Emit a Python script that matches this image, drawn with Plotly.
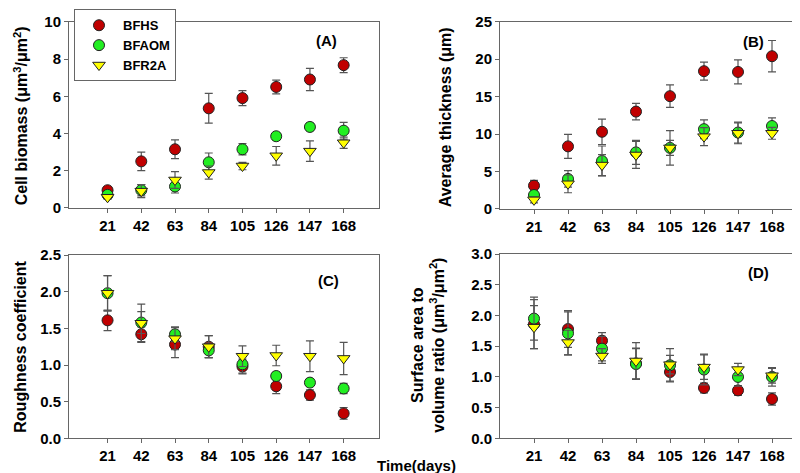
import plotly.graph_objects as go
from plotly.subplots import make_subplots

days = [21, 42, 63, 84, 105, 126, 147, 168]
series_names = ["BFHS", "BFAOM", "BFR2A"]

# Panel A: Cell biomass
a_bfhs = [0.95, 2.5, 3.15, 5.35, 5.9, 6.5, 6.9, 7.67]
a_bfhs_err = [0.2, 0.5, 0.5, 0.8, 0.4, 0.37, 0.6, 0.4]
a_bfaom = [0.7, 0.95, 1.15, 2.45, 3.15, 3.85, 4.35, 4.15]
a_bfaom_err = [0.1, 0.3, 0.35, 0.5, 0.3, 0.2, 0.2, 0.45]
a_bfr2a = [0.57, 0.9, 1.5, 1.9, 2.25, 2.8, 3.05, 3.5]
a_bfr2a_err = [0.1, 0.35, 0.45, 0.35, 0.2, 0.5, 0.55, 0.3]

# Panel B: Average thickness
b_bfhs = [3.1, 8.35, 10.3, 13.0, 15.06, 18.4, 18.3, 20.4]
b_bfhs_err = [0.7, 1.6, 1.7, 1.1, 1.5, 1.2, 1.6, 2.1]
b_bfaom = [1.85, 4.0, 6.4, 7.55, 8.15, 10.65, 10.2, 11.07]
b_bfaom_err = [0.5, 1.1, 2.0, 1.6, 2.3, 1.25, 1.4, 1.1]
b_bfr2a = [1.2, 3.35, 5.85, 7.2, 8.15, 9.65, 10.1, 10.1]
b_bfr2a_err = [0.4, 1.2, 1.4, 1.8, 1.0, 1.2, 1.4, 0.8]

# Panel C: Roughness coefficient
c_bfhs = [1.61, 1.42, 1.28, 1.25, 0.98, 0.71, 0.59, 0.34]
c_bfhs_err = [0.14, 0.1, 0.18, 0.15, 0.1, 0.1, 0.07, 0.08]
c_bfaom = [1.98, 1.58, 1.42, 1.2, 1.01, 0.85, 0.76, 0.68]
c_bfaom_err = [0.24, 0.15, 0.1, 0.1, 0.12, 0.05, 0.05, 0.07]
c_bfr2a = [1.98, 1.57, 1.36, 1.25, 1.12, 1.13, 1.12, 1.09]
c_bfr2a_err = [0.24, 0.26, 0.15, 0.15, 0.14, 0.14, 0.21, 0.22]

# Panel D: Surface area to volume ratio
d_bfhs = [1.86, 1.78, 1.59, 1.22, 1.08, 0.82, 0.78, 0.64]
d_bfhs_err = [0.4, 0.3, 0.13, 0.25, 0.15, 0.08, 0.08, 0.1]
d_bfaom = [1.95, 1.71, 1.46, 1.21, 1.19, 1.12, 1.0, 1.0]
d_bfaom_err = [0.35, 0.35, 0.2, 0.25, 0.27, 0.25, 0.15, 0.15]
d_bfr2a = [1.81, 1.56, 1.34, 1.26, 1.2, 1.16, 1.12, 1.02]
d_bfr2a_err = [0.35, 0.2, 0.12, 0.3, 0.15, 0.2, 0.1, 0.12]

colors = ["#C00000", "#22EE22", "#FFFF00"]
symbols = ["circle", "circle", "triangle-down"]
FONT = "Arial, Liberation Sans, sans-serif"

fig = make_subplots(rows=2, cols=2)

panels = [
    (1, 1, [(a_bfhs, a_bfhs_err), (a_bfaom, a_bfaom_err), (a_bfr2a, a_bfr2a_err)]),
    (1, 2, [(b_bfhs, b_bfhs_err), (b_bfaom, b_bfaom_err), (b_bfr2a, b_bfr2a_err)]),
    (2, 1, [(c_bfhs, c_bfhs_err), (c_bfaom, c_bfaom_err), (c_bfr2a, c_bfr2a_err)]),
    (2, 2, [(d_bfhs, d_bfhs_err), (d_bfaom, d_bfaom_err), (d_bfr2a, d_bfr2a_err)]),
]

for pi, (r, c, data) in enumerate(panels):
    for si, (vals, errs) in enumerate(data):
        fig.add_trace(go.Scatter(
            x=days, y=vals, mode="markers", name=series_names[si],
            showlegend=(pi == 0),
            marker=dict(color=colors[si], symbol=symbols[si], size=11,
                        line=dict(color="#222", width=1)),
            error_y=dict(type="data", array=errs, visible=True,
                         color="#555", thickness=1.2, width=4),
        ), row=r, col=c)

W, H = 800, 473
domA = dict(x=[61 / W, 371 / W], y=[1 - 198 / H, 1 - 5 / H])
domB = dict(x=[492 / W, 798 / W], y=[1 - 199 / H, 1 - 5 / H])
domC = dict(x=[61 / W, 371 / W], y=[1 - 437 / H, 1 - 247 / H])
domD = dict(x=[492 / W, 798 / W], y=[1 - 437 / H, 1 - 246 / H])

axis_common = dict(showline=True, mirror=True, linecolor="#666", linewidth=1,
                   ticks="outside", ticklen=4, tickcolor="#666", showgrid=False,
                   zeroline=False,
                   tickfont=dict(family=FONT, size=15, color="black", weight="bold"))

xr_left = [-3, 190]
xr_right = [0, 189]
fig.update_xaxes(**axis_common, tickvals=days)
fig.update_yaxes(**axis_common)

fig.update_layout(
    xaxis=dict(domain=domA["x"], range=xr_left),
    yaxis=dict(domain=domA["y"], range=[0, 10], tickvals=[0, 2, 4, 6, 8, 10]),
    xaxis2=dict(domain=domB["x"], range=xr_right),
    yaxis2=dict(domain=domB["y"], range=[0, 25], tickvals=[0, 5, 10, 15, 20, 25]),
    xaxis3=dict(domain=domC["x"], range=xr_left),
    yaxis3=dict(domain=domC["y"], range=[0, 2.5], tickvals=[0, 0.5, 1.0, 1.5, 2.0, 2.5], tickformat=".1f"),
    xaxis4=dict(domain=domD["x"], range=xr_right),
    yaxis4=dict(domain=domD["y"], range=[0, 3.0], tickvals=[0, 0.5, 1.0, 1.5, 2.0, 2.5, 3.0], tickformat=".1f"),
)

fig.update_layout(
    width=W, height=H,
    margin=dict(l=0, r=0, t=0, b=0),
    paper_bgcolor="white", plot_bgcolor="white",
    font=dict(family=FONT, color="black"),
    legend=dict(x=66 / W, y=1 + 8 / H, xanchor="left", yanchor="top",
                bgcolor="white", bordercolor="#666", borderwidth=1,
                font=dict(family=FONT, size=13, color="black", weight="bold"),
                tracegroupgap=0, itemwidth=38),
)

title_font = dict(family=FONT, size=16, color="black", weight="bold")
ann = [
    dict(text="Cell biomass (μm<sup>3</sup>/μm<sup>2</sup>)", x=13 / W, y=1 - 103 / H, textangle=-90),
    dict(text="Average thickness (μm)", x=437 / W, y=1 - 104 / H, textangle=-90),
    dict(text="Roughness coefficient", x=13 / W, y=1 - 342 / H, textangle=-90),
    dict(text="Surface area to<br>volume ratio (μm<sup>3</sup>/μm<sup>2</sup>)", x=420 / W, y=1 - 341 / H, textangle=-90),
]
for a in ann:
    fig.add_annotation(xref="paper", yref="paper", showarrow=False,
                       xanchor="center", yanchor="middle", font=title_font, **a)

lab_font = dict(family=FONT, size=15, color="black", weight="bold")
for txt, x, y in [("(A)", 318, 24), ("(B)", 745, 25), ("(C)", 320, 273), ("(D)", 750, 265),
                  ("Time(days)", 408, 465)]:
    fig.add_annotation(xref="paper", yref="paper", showarrow=False, text=txt,
                       x=x / W, y=1 - y / H, xanchor="center", yanchor="middle", font=lab_font)

fig.write_html("out.html")
